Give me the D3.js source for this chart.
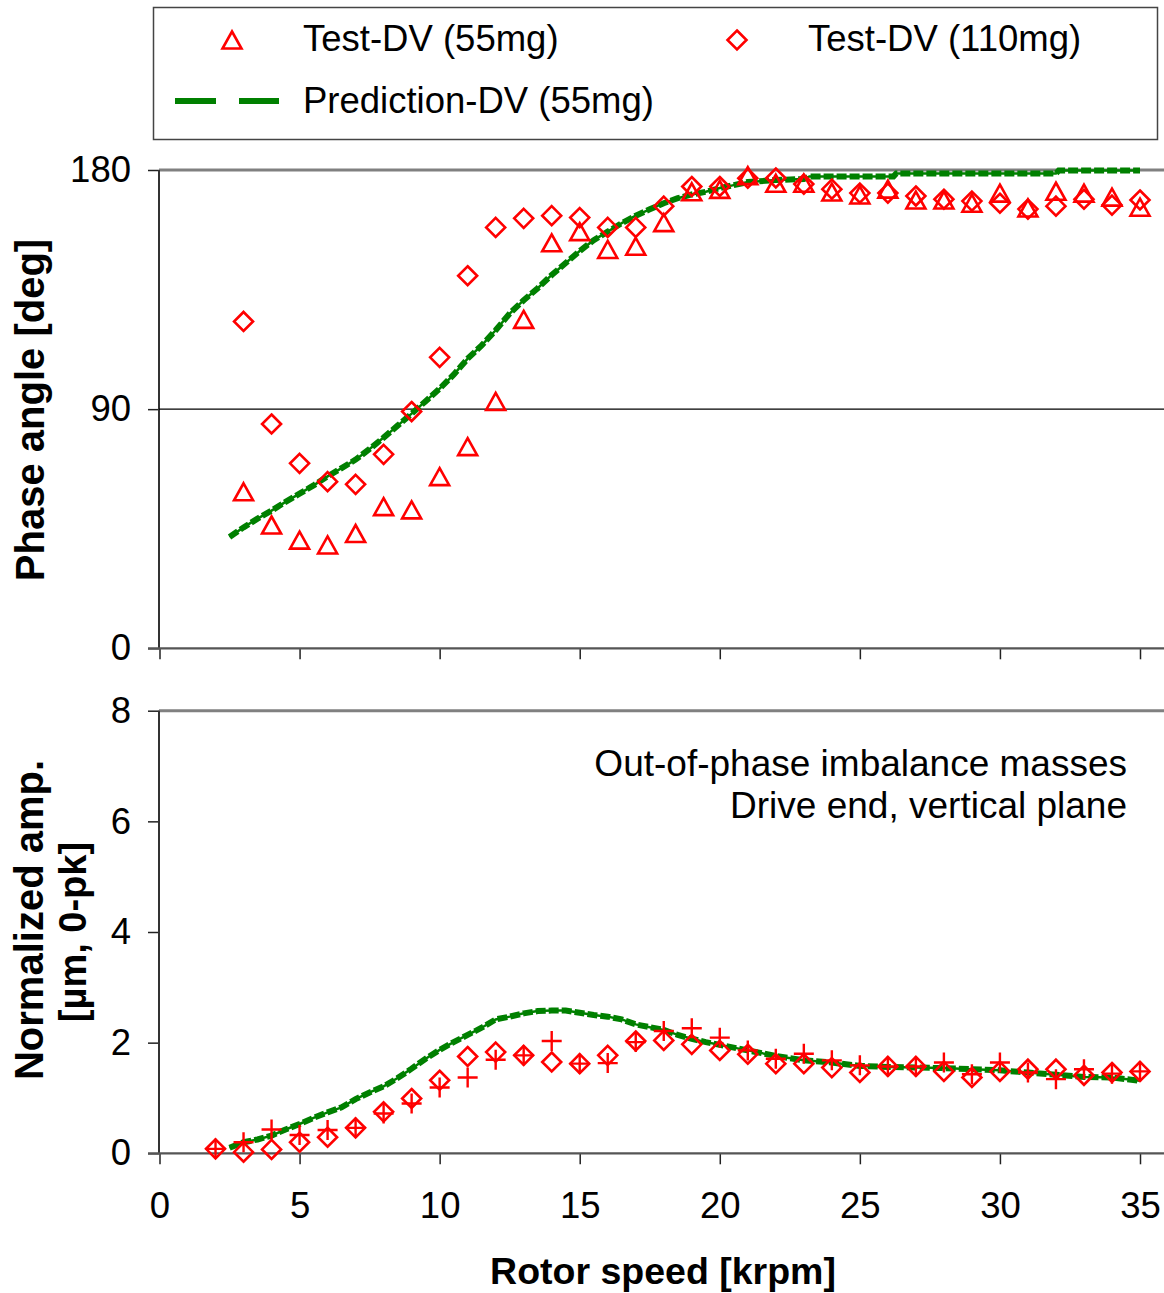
<!DOCTYPE html>
<html>
<head>
<meta charset="utf-8">
<script src="https://cdn.jsdelivr.net/npm/d3@7"></script>
<style>
  html, body { margin: 0; padding: 0; background: #fff; }
  svg { display: block; font-family: "Liberation Sans", Arial, sans-serif; }
</style>
</head>
<body>
<svg id="chart" width="1164" height="1293"></svg>
<script>
// Rotor speed of each measured point [krpm]
const speeds = d3.range(2, 36);   // 2 .. 35

// Phase angle [deg], measured (null = no reading at that speed)
const phase55 = [null, 58.9, 46.4, 40.7, 38.9, 43.2, 53.3, 52.1, 64.6, 75.9, 92.9, 123.8, 152.6, 156.8,
  150.1, 151.3, 160.2, 171.8, 172.7, 177.9, 175.0, 175.0, 171.7, 170.6, 172.8, 168.7, 168.7, 167.5,
  171.3, 165.7, 172.0, 171.3, 169.8, 166.0];
const phase110 = [null, 123.0, 84.4, 69.6, 62.7, 61.7, 73.0, 89.1, 109.5, 140.2, 158.4, 161.8, 162.8, 162.1,
  158.4, 158.4, 166.4, 173.8, 173.8, 176.9, 177.0, 174.7, 172.8, 171.3, 171.3, 170.2, 169.0, 168.3,
  167.5, 165.3, 166.4, 169.0, 166.8, 168.7];

// Normalized amplitude [µm, 0-pk], measured
const amp110 = [0.08, 0.02, 0.07, 0.20, 0.29, 0.46, 0.75, 0.99, 1.32, 1.75, 1.83, 1.77, 1.65, 1.62,
  1.77, 2.03, 2.04, 1.97, 1.86, 1.79, 1.62, 1.62, 1.55, 1.46, 1.57, 1.57, 1.48, 1.37, 1.48, 1.52,
  1.52, 1.41, 1.46, 1.48];
const amp55 = [0.08, 0.20, 0.43, 0.33, 0.42, 0.46, 0.72, 0.90, 1.19, 1.37, 1.69, 1.77, 2.03, 1.62,
  1.63, 2.01, 2.21, 2.26, 2.09, 1.86, 1.71, 1.80, 1.68, 1.59, 1.57, 1.57, 1.64, 1.43, 1.64, 1.46,
  1.34, 1.52, 1.44, 1.48];

// Predicted phase angle (speed, deg)
const predPhaseSpeed = [2.5, 3, 3.5, 4, 4.5, 5, 5.5, 6, 6.5, 7, 7.5, 8, 8.5, 9, 9.5, 10, 10.5, 11, 11.5, 12,
  12.5, 13, 13.5, 14, 14.5, 15, 15.5, 16, 16.5, 17, 17.5, 18, 18.5, 19, 19.5, 20, 20.5, 21, 22, 23,
  23.2, 26.2, 26.3, 32.0, 32.1, 35];
const predPhase = [41.9, 45.5, 48.8, 51.8, 55.1, 58.2, 61.3, 64.7, 67.8, 71.0, 75.0, 79.3, 83.8, 88.3, 93.0,
  97.7, 103.0, 109.0, 114.0, 119.7, 126.0, 131.0, 135.5, 140.5, 145.0, 149.5, 153.6, 156.8, 160.0,
  162.8, 165.2, 167.5, 169.4, 170.8, 171.8, 173.2, 174.3, 175.5, 176.2, 176.6, 177.6, 177.6, 178.7,
  178.7, 179.8, 179.8];

// Predicted amplitude (speed, µm)
const predAmpSpeed = [2.5, 3, 3.5, 4, 4.5, 5, 5.5, 6, 6.5, 7, 7.5, 8, 8.5, 9, 9.5, 10, 10.5, 11, 11.5, 12,
  12.5, 13, 13.5, 14, 14.5, 15, 15.5, 16, 16.5, 17, 17.5, 18, 18.5, 19, 19.5, 20, 21, 22, 23, 24, 25,
  26, 27, 28, 29, 30, 31, 32, 33, 34, 35];
const predAmp = [0.10, 0.20, 0.25, 0.32, 0.43, 0.53, 0.64, 0.74, 0.83, 0.98, 1.10, 1.21, 1.36, 1.53, 1.71,
  1.87, 2.01, 2.14, 2.27, 2.42, 2.47, 2.53, 2.57, 2.58, 2.58, 2.54, 2.50, 2.47, 2.42, 2.33, 2.28, 2.23,
  2.14, 2.07, 2.01, 1.96, 1.86, 1.76, 1.68, 1.64, 1.58, 1.56, 1.55, 1.54, 1.52, 1.50, 1.46, 1.42,
  1.38, 1.37, 1.31];

const xTicks = [0, 5, 10, 15, 20, 25, 30, 35];
const phaseTicks = [0, 90, 180];
const ampTicks = [0, 2, 4, 6, 8];

const legendLabels = ["Test-DV (55mg)", "Test-DV (110mg)", "Prediction-DV (55mg)"];
const noteLines = ["Out-of-phase imbalance masses", "Drive end, vertical plane"];

const RED = "#ff0000", GREEN = "#008000";
const FONT = '"Liberation Sans", Arial, sans-serif';
const svg = d3.select("#chart");
svg.append("rect").attr("width", 1164).attr("height", 1293).attr("fill", "#fff");

const x = d3.scaleLinear().domain([0, 35]).range([159.5, 1140]);
const yPhase = d3.scaleLinear().domain([0, 180]).range([648.3, 170]);
const yAmp = d3.scaleLinear().domain([0, 8]).range([1153.3, 710.7]);
const RIGHT = 1164, LEFT = 159;

// marker shapes
function triangle(g) {
  g.append("path").attr("d", "M0,-8.5L9.5,8.5L-9.5,8.5Z")
    .attr("fill", "none").attr("stroke", RED).attr("stroke-width", 2.6).attr("stroke-linejoin", "miter");
}
function diamond(g) {
  g.append("path").attr("d", "M0,-9.5L9.5,0L0,9.5L-9.5,0Z")
    .attr("fill", "none").attr("stroke", RED).attr("stroke-width", 2.6);
}
function plus(g) {
  g.append("path").attr("d", "M-10,0H10M0,-10V10")
    .attr("fill", "none").attr("stroke", RED).attr("stroke-width", 2.4);
}

function drawPanel(yScale, ticks) {
  const top = yScale.range()[1], bottom = yScale.range()[0];
  // top reference line
  svg.append("line").attr("x1", LEFT).attr("x2", RIGHT).attr("y1", top).attr("y2", top)
    .attr("stroke", "#808080").attr("stroke-width", 3);
  // y axis
  const ya = d3.axisLeft(yScale).tickValues(ticks).tickSize(11).tickPadding(17);
  const gy = svg.append("g").attr("transform", `translate(${LEFT},0)`).call(ya);
  gy.select(".domain").remove();
  gy.selectAll(".tick line").attr("stroke", "#222").attr("stroke-width", 1.5);
  gy.selectAll(".tick text").attr("font-size", 36.5).attr("fill", "#000").attr("font-family", FONT);
  svg.append("line").attr("x1", LEFT).attr("x2", LEFT).attr("y1", top).attr("y2", bottom)
    .attr("stroke", "#333").attr("stroke-width", 2);
  // x axis
  const xa = d3.axisBottom(x).tickValues(xTicks).tickSize(11).tickPadding(28);
  const gx = svg.append("g").attr("transform", `translate(0,${bottom})`).call(xa);
  gx.select(".domain").remove();
  gx.selectAll(".tick line").attr("stroke", "#222").attr("stroke-width", 1.5);
  gx.selectAll(".tick text").attr("font-size", 36.5).attr("fill", "#000").attr("font-family", FONT);
  svg.append("line").attr("x1", LEFT - 11).attr("x2", RIGHT).attr("y1", bottom).attr("y2", bottom)
    .attr("stroke", "#555").attr("stroke-width", 2.2);
  return gx;
}

// ---- phase panel ----
const gxTop = drawPanel(yPhase, phaseTicks);
gxTop.selectAll(".tick text").remove();
svg.append("line").attr("x1", LEFT).attr("x2", RIGHT).attr("y1", yPhase(90)).attr("y2", yPhase(90))
  .attr("stroke", "#000").attr("stroke-width", 1.2);

// ---- amplitude panel ----
drawPanel(yAmp, ampTicks);

// prediction line: thin continuous core under heavy dashes
function predLine(xs, ys, yScale) {
  const pts = xs.map((s, i) => [s, ys[i]]);
  const line = d3.line().x(d => x(d[0])).y(d => yScale(d[1]));
  svg.append("path").datum(pts).attr("d", line).attr("fill", "none")
    .attr("stroke", GREEN).attr("stroke-width", 2.5);
  svg.append("path").datum(pts).attr("d", line).attr("fill", "none")
    .attr("stroke", GREEN).attr("stroke-width", 6).attr("stroke-dasharray", "10,3");
}
predLine(predPhaseSpeed, predPhase, yPhase);
predLine(predAmpSpeed, predAmp, yAmp);

function markers(vals, yScale, shape) {
  const data = speeds.map((s, i) => [s, vals[i]]).filter(d => d[1] != null);
  svg.append("g").selectAll("g").data(data).join("g")
    .attr("transform", d => `translate(${x(d[0])},${yScale(d[1])})`)
    .each(function () { shape(d3.select(this)); });
}
markers(phase55, yPhase, triangle);
markers(phase110, yPhase, diamond);
markers(amp110, yAmp, diamond);
markers(amp55, yAmp, plus);

// axis titles
svg.append("text").attr("x", 663).attr("y", 1284).attr("text-anchor", "middle")
  .attr("font-size", 37.5).attr("font-weight", "bold").text("Rotor speed [krpm]");
svg.append("text").attr("transform", "translate(44,410) rotate(-90)").attr("text-anchor", "middle")
  .attr("font-size", 40).attr("font-weight", "bold").text("Phase angle [deg]");
svg.append("text").attr("transform", "translate(43,920) rotate(-90)").attr("text-anchor", "middle")
  .attr("font-size", 40).attr("font-weight", "bold").text("Normalized amp.");
svg.append("text").attr("transform", "translate(86,932) rotate(-90)").attr("text-anchor", "middle")
  .attr("font-size", 38).attr("font-weight", "bold").text("[µm, 0-pk]");

// annotation
svg.append("g").selectAll("text").data(noteLines).join("text")
  .attr("x", 1127).attr("y", (d, i) => 776 + i * 42).attr("text-anchor", "end")
  .attr("font-size", 37).text(d => d);

// legend
svg.append("rect").attr("x", 153.5).attr("y", 7.5).attr("width", 1004).attr("height", 132)
  .attr("fill", "#fff").attr("stroke", "#444").attr("stroke-width", 1.5);
const lg = svg.append("g");
triangle(lg.append("g").attr("transform", "translate(232,40)"));
diamond(lg.append("g").attr("transform", "translate(737,40)"));
lg.append("line").attr("x1", 175).attr("x2", 279).attr("y1", 101).attr("y2", 101)
  .attr("stroke", GREEN).attr("stroke-width", 6).attr("stroke-dasharray", "41,23");
const legendPos = [[303, 51], [808, 51], [303, 113]];
lg.selectAll("text").data(legendLabels).join("text")
  .attr("x", (d, i) => legendPos[i][0]).attr("y", (d, i) => legendPos[i][1])
  .attr("font-size", 36.5).text(d => d);
</script>
</body>
</html>
